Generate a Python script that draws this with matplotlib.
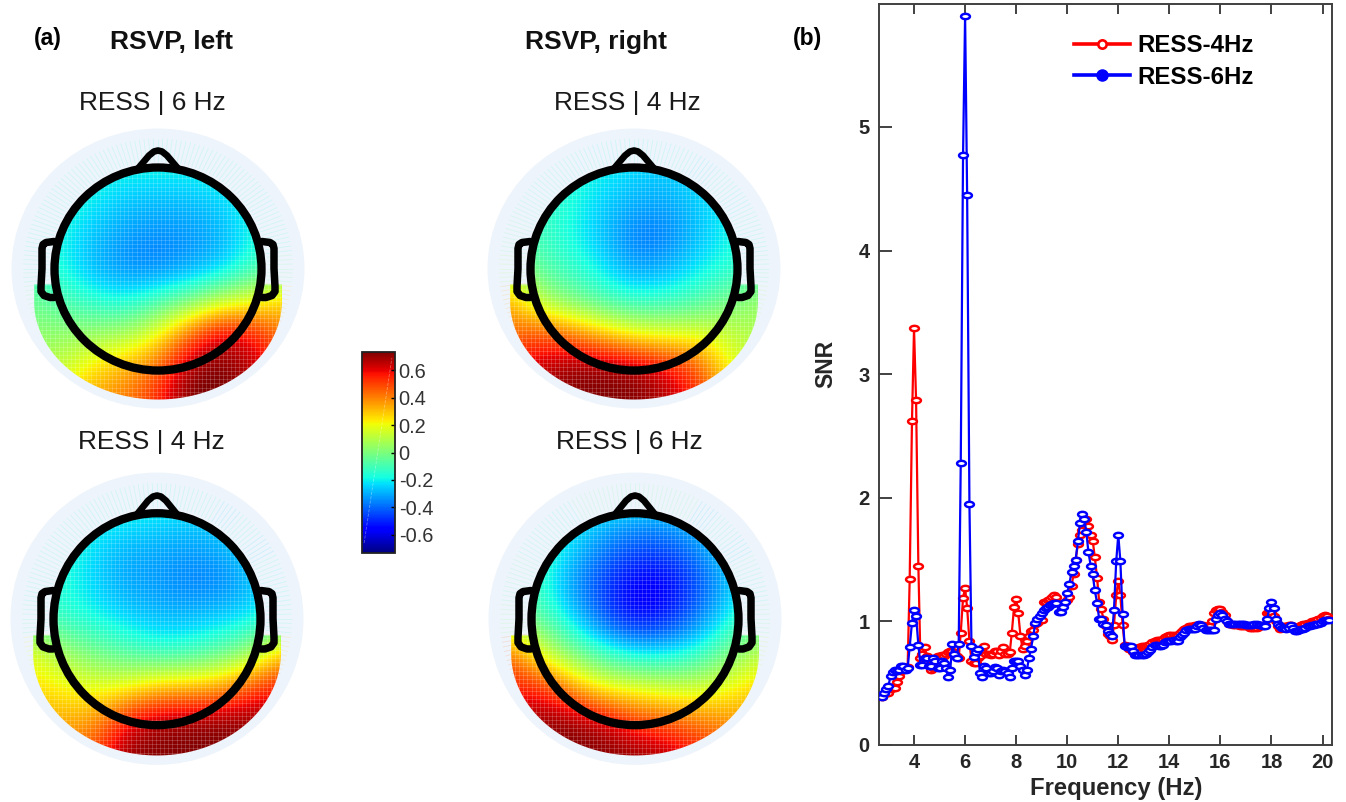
import matplotlib
matplotlib.use("Agg")
import matplotlib.pyplot as plt
import numpy as np
from matplotlib.collections import LineCollection
from matplotlib.colors import Normalize
from matplotlib.markers import MarkerStyle
from matplotlib.patches import Ellipse, PathPatch
from matplotlib.path import Path
from matplotlib.transforms import Affine2D

plt.rcParams["font.family"] = ["Liberation Sans", "DejaVu Sans"]

# SNR spectra
freqs = [
    2.75, 2.83, 2.92,
    3.00, 3.08, 3.17, 3.25, 3.33, 3.42, 3.50, 3.58, 3.67, 3.75, 3.83, 3.92,
    4.00, 4.08, 4.17, 4.25, 4.33, 4.42, 4.50, 4.58, 4.67, 4.75, 4.83, 4.92,
    5.00, 5.08, 5.17, 5.25, 5.33, 5.42, 5.50, 5.58, 5.67, 5.75, 5.83, 5.92,
    6.00, 6.08, 6.17, 6.25, 6.33, 6.42, 6.50, 6.58, 6.67, 6.75, 6.83, 6.92,
    7.00, 7.08, 7.17, 7.25, 7.33, 7.42, 7.50, 7.58, 7.67, 7.75, 7.83, 7.92,
    8.00, 8.08, 8.17, 8.25, 8.33, 8.42, 8.50, 8.58, 8.67, 8.75, 8.83, 8.92,
    9.00, 9.08, 9.17, 9.25, 9.33, 9.42, 9.50, 9.58, 9.67, 9.75, 9.83, 9.92,
    10.00, 10.08, 10.17, 10.25, 10.33, 10.42, 10.50, 10.58, 10.67, 10.75, 10.83, 10.92,
    11.00, 11.08, 11.17, 11.25, 11.33, 11.42, 11.50, 11.58, 11.67, 11.75, 11.83, 11.92,
    12.00, 12.08, 12.17, 12.25, 12.33, 12.42, 12.50, 12.58, 12.67, 12.75, 12.83, 12.92,
    13.00, 13.08, 13.17, 13.25, 13.33, 13.42, 13.50, 13.58, 13.67, 13.75, 13.83, 13.92,
    14.00, 14.08, 14.17, 14.25, 14.33, 14.42, 14.50, 14.58, 14.67, 14.75, 14.83, 14.92,
    15.00, 15.08, 15.17, 15.25, 15.33, 15.42, 15.50, 15.58, 15.67, 15.75, 15.83, 15.92,
    16.00, 16.08, 16.17, 16.25, 16.33, 16.42, 16.50, 16.58, 16.67, 16.75, 16.83, 16.92,
    17.00, 17.08, 17.17, 17.25, 17.33, 17.42, 17.50, 17.58, 17.67, 17.75, 17.83, 17.92,
    18.00, 18.08, 18.17, 18.25, 18.33, 18.42, 18.50, 18.58, 18.67, 18.75, 18.83, 18.92,
    19.00, 19.08, 19.17, 19.25, 19.33, 19.42, 19.50, 19.58, 19.67, 19.75, 19.83, 19.92,
    20.00, 20.08, 20.17, 20.25,
]
snr_4hz = [
    .39, .41, .43,
    .42, .45, .47, .46, .51, .56, .60, .62, .63, .63, 1.34, 2.62,
    3.37, 2.79, 1.45, .70, .74, .79, .72, .65, .61, .62, .70, .72,
    .72, .73, .72, .74, .75, .76, .76, .74, .72, .70, .91, 1.19,
    1.27, 1.11, .84, .68, .66, .66, .70, .72, .75, .80, .74, .74,
    .73, .74, .76, .76, .73, .76, .79, .74, .74, .75, .91, 1.12,
    1.18, 1.07, .88, .78, .80, .84, .88, .92, .93, .98, .99, 1.01,
    1.01, 1.16, 1.16, 1.17, 1.18, 1.20, 1.21, 1.20, 1.15, 1.14, 1.15, 1.16,
    1.17, 1.20, 1.29, 1.38, 1.50, 1.63, 1.70, 1.74, 1.80, 1.83, 1.77, 1.70,
    1.65, 1.52, 1.35, 1.16, 1.10, 1.02, .96, .90, .88, .85, .97, 1.21,
    1.33, 1.21, .97, .81, .80, .78, .78, .75, .75, .77, .79, .80,
    .80, .80, .81, .82, .83, .84, .85, .85, .85, .86, .87, .88,
    .89, .89, .89, .88, .89, .91, .92, .94, .95, .96, .96, .96,
    .97, .97, .97, .97, .97, .96, .96, .96, 1.00, 1.07, 1.09, 1.10,
    1.10, 1.08, 1.05, 1.00, .98, .98, .97, .97, .97, .96, .96, .96,
    .96, .96, .95, .95, .95, .95, .96, .96, .97, .97, 1.07, 1.08,
    1.08, 1.04, 1.00, .96, .94, .95, .96, .96, .97, .97, .96, .95,
    .95, .96, .97, .98, .98, .99, .99, 1.00, 1.00, 1.01, 1.02, 1.03,
    1.04, 1.05, 1.04, 1.02,
]
snr_6hz = [
    .39, .42, .45,
    .48, .56, .59, .61, .60, .61, .64, .64, .61, .62, .79, .99,
    1.09, 1.04, .81, .65, .65, .70, .70, .64, .64, .70, .68, .62,
    .62, .68, .66, .62, .55, .61, .82, .74, .70, .82, 2.28, 4.77,
    5.90, 4.45, 1.95, .80, .71, .75, .78, .58, .55, .64, .62, .58,
    .58, .60, .63, .62, .57, .60, .61, .60, .58, .55, .62, .68,
    .68, .68, .64, .61, .57, .61, .70, .78, .88, .99, 1.02, 1.04,
    1.07, 1.09, 1.11, 1.12, 1.13, 1.14, 1.15, 1.15, 1.08, 1.08, 1.12, 1.16,
    1.23, 1.30, 1.40, 1.45, 1.50, 1.65, 1.80, 1.87, 1.83, 1.72, 1.56, 1.45,
    1.38, 1.25, 1.15, 1.02, 1.02, .98, .97, .92, .90, .88, 1.09, 1.49,
    1.70, 1.49, 1.06, .80, .79, .80, .80, .76, .73, .73, .73, .73,
    .73, .74, .75, .77, .79, .81, .81, .80, .80, .81, .83, .84,
    .84, .84, .85, .84, .84, .87, .89, .91, .93, .94, .94, .94,
    .94, .96, .98, .97, .95, .93, .93, .93, .93, .93, 1.02, 1.05,
    1.07, 1.05, 1.02, 1.00, .98, .98, .98, .98, .98, .98, .98, .98,
    .97, .97, .97, .97, .98, .98, .97, .97, .96, .96, 1.02, 1.11,
    1.16, 1.11, 1.02, .98, .96, .95, .95, .94, .95, .97, .95, .92,
    .92, .93, .94, .94, .95, .96, .96, .97, .97, .98, .98, .99,
    1.00, 1.01, 1.01, 1.01,
]
x_ticks = [4, 6, 8, 10, 12, 14, 16, 18, 20]
y_ticks = [0, 1, 2, 3, 4, 5]
cbar_ticks = [-0.6, -0.4, -0.2, 0, 0.2, 0.4, 0.6]
cbar_labels = ["-0.6", "-0.4", "-0.2", "0", "0.2", "0.4", "0.6"]

# scalp maps, coarse 9x9 readings from the colours, top row first
map_left_6hz = [
    [-.15, -.15, -.15, -.15, -.15, -.15, -.15, -.15, -.15],
    [-.15, -.15, -.17, -.20, -.20, -.20, -.18, -.15, -.15],
    [-.14, -.17, -.22, -.27, -.28, -.28, -.25, -.18, -.14],
    [-.16, -.20, -.28, -.33, -.35, -.34, -.30, -.20, -.15],
    [-.12, -.20, -.30, -.35, -.37, -.32, -.27, -.14, -.05],
    [-.03, -.10, -.16, -.19, -.10, -.02, .12, .18, .28],
    [.03, .04, .05, .08, .20, .45, .65, .60, .40],
    [.10, .13, .27, .33, .45, .70, .75, .65, .55],
    [.20, .28, .35, .42, .55, .75, .75, .70, .60],
]
map_right_4hz = [
    [-.18, -.18, -.18, -.18, -.18, -.18, -.18, -.18, -.18],
    [-.14, -.14, -.17, -.20, -.24, -.26, -.22, -.17, -.15],
    [-.10, -.12, -.18, -.25, -.30, -.31, -.26, -.20, -.16],
    [-.08, -.12, -.19, -.28, -.38, -.38, -.28, -.20, -.16],
    [.05, -.08, -.14, -.22, -.33, -.30, -.22, -.17, -.10],
    [.35, .08, -.02, -.10, -.15, -.14, -.10, -.02, .05],
    [.42, .50, .42, .30, .20, .18, .18, .14, .08],
    [.60, .65, .72, .72, .70, .60, .50, .20, .12],
    [.65, .70, .72, .73, .73, .68, .55, .35, .20],
]
map_left_4hz = [
    [-.15, -.15, -.15, -.15, -.15, -.15, -.15, -.15, -.15],
    [-.16, -.16, -.18, -.20, -.22, -.24, -.24, -.18, -.15],
    [-.13, -.16, -.24, -.30, -.31, -.33, -.31, -.24, -.15],
    [-.14, -.18, -.25, -.32, -.33, -.37, -.37, -.30, -.18],
    [-.10, -.14, -.19, -.24, -.28, -.28, -.25, -.22, -.14],
    [.20, .05, -.02, -.08, -.14, -.13, -.07, .03, .30],
    [.25, .23, .18, .20, .30, .32, .35, .50, .58],
    [.35, .33, .37, .60, .70, .72, .73, .72, .72],
    [.40, .42, .50, .72, .73, .73, .73, .73, .73],
]
map_right_6hz = [
    [-.05, -.05, -.05, -.05, -.05, -.05, -.05, -.05, -.05],
    [-.12, -.14, -.18, -.26, -.30, -.30, -.24, -.15, -.10],
    [-.08, -.12, -.26, -.38, -.45, -.45, -.37, -.22, -.12],
    [-.08, -.16, -.35, -.48, -.58, -.58, -.45, -.30, -.15],
    [.00, -.08, -.24, -.44, -.56, -.52, -.38, -.20, -.05],
    [.45, .15, -.02, -.13, -.22, -.22, -.16, -.02, .10],
    [.55, .55, .35, .20, .18, .14, .14, .20, .30],
    [.68, .72, .72, .65, .52, .48, .42, .38, .35],
    [.73, .73, .73, .73, .72, .68, .58, .50, .40],
]

W, H = 1346, 802
VMAX = 0.735
norm = Normalize(-VMAX, VMAX)
cmap = plt.get_cmap("jet")


def ax_px(fig, left, top, right, bottom):
    return fig.add_axes([left / W, 1 - bottom / H, (right - left) / W, (bottom - top) / H])


def draw_head(ax, cx, cy, field, sy):
    field = np.array(field)
    rx, ry = 124, 131 * sy

    ax.add_patch(Ellipse((cx, cy), 293, 280 * sy, fc="#eef4fb", ec="none", zorder=1))

    # faint spokes in the pale ring
    segs, cols = [], []
    for a in np.radians(np.arange(0, 360, 2.0)):
        ca, sa = np.cos(a), np.sin(a)
        segs.append([(cx + 109 * ca, cy + 107 * sy * sa), (cx + 135 * ca, cy + 130 * sy * sa)])
        i = int(np.clip(round((sa + 1) * 4), 0, 8))
        j = int(np.clip(round((ca + 1) * 4), 0, 8))
        cols.append(cmap(norm(field[i, j]), alpha=0.15))
    ax.add_collection(LineCollection(segs, colors=cols, linewidths=0.6, zorder=1.5))

    # coloured part: inside the head plus the lobe below the ears
    t = np.linspace(0, 2 * np.pi, 200)
    head_v = np.column_stack([cx + 104 * np.cos(t), cy + 103 * sy * np.sin(t)])
    t2 = np.linspace(0, np.pi, 120)
    low_v = np.column_stack([cx + rx * np.cos(t2), cy + (32 + 99 * np.sin(t2)) * sy])
    low_v = np.vstack([[cx + rx, cy + 16 * sy], low_v, [cx - rx, cy + 16 * sy], [cx + rx, cy + 16 * sy]])
    clip = Path.make_compound_path(Path(head_v, closed=True), Path(low_v, closed=True))
    clip_patch = PathPatch(clip, transform=ax.transData)

    ext = (cx - 1.125 * rx, cx + 1.125 * rx, cy + 1.125 * ry, cy - 1.125 * ry)
    im = ax.imshow(field, cmap=cmap, norm=norm, extent=ext, origin="upper",
                   interpolation="bicubic", aspect="auto", zorder=2)
    im.set_clip_path(clip_patch)

    # the mesh shows as thin pale lines
    gx = np.arange(cx - rx, cx + rx, 4.1)
    gy = np.arange(cy - ry, cy + ry, 4.1)
    v = ax.vlines(gx, cy - ry, cy + ry, color="white", lw=0.5, alpha=0.25, zorder=2.5)
    h = ax.hlines(gy, cx - rx, cx + rx, color="white", lw=0.5, alpha=0.25, zorder=2.5)
    v.set_clip_path(clip_patch)
    h.set_clip_path(clip_patch)

    # head outline, nose, ears
    ax.add_patch(Ellipse((cx, cy + 0.5), 207, 203 * sy, fc="none", ec="black", lw=6, zorder=3))
    nose_x = [-20, -9, -4, 0, 4, 9, 20]
    nose_y = [-100, -113, -117, -118, -117, -113, -100]
    ax.plot([cx + n for n in nose_x], [cy + n * sy for n in nose_y], color="black", lw=4.8,
            solid_joinstyle="round", solid_capstyle="round", zorder=3)
    for side in (-1, 1):
        ear_x = [104, 112, 115, 116, 116, 117, 117, 114, 108, 104]
        ear_y = [-27, -26, -24, -20, 0, 18, 23, 27, 29, 29]
        ax.plot([cx + side * e for e in ear_x], [cy + e * sy for e in ear_y],
                color="black", lw=5.4, solid_joinstyle="round", solid_capstyle="round", zorder=3)
    return im


fig = plt.figure(figsize=(W / 100, H / 100), dpi=100)

# panel (a) lives in a full figure axes counted in pixels
bg = fig.add_axes([0, 0, 1, 1])
im = draw_head(bg, 158, 268.5, map_left_6hz, 1.0)
draw_head(bg, 634, 268.5, map_right_4hz, 1.0)
draw_head(bg, 157, 618.7, map_left_4hz, 1.044)
draw_head(bg, 635, 618.7, map_right_6hz, 1.044)
bg.set_xlim(0, W)
bg.set_ylim(H, 0)
bg.axis("off")

bg.text(34, 38, "(a)", fontsize=16.5, fontweight="bold", va="center", ha="left")
bg.text(793, 38, "(b)", fontsize=16.5, fontweight="bold", va="center", ha="left")
bg.text(172, 42, "RSVP, left", fontsize=19, fontweight="bold", va="center", ha="center", color="#111111")
bg.text(596, 42, "RSVP, right", fontsize=19, fontweight="bold", va="center", ha="center", color="#111111")
titles = [(152.5, 103, "RESS | 6 Hz"), (627.5, 103, "RESS | 4 Hz"),
          (151, 442, "RESS | 4 Hz"), (629.5, 442, "RESS | 6 Hz")]
for tx, ty, s in titles:
    bg.text(tx, ty, s, fontsize=18.9, color="#1a1a1a", va="center", ha="center")

# colorbar
cax = ax_px(fig, 361.5, 352, 394.5, 553)
cb = fig.colorbar(im, cax=cax, ticks=cbar_ticks)
cb.ax.set_yticklabels(cbar_labels)
cb.ax.tick_params(direction="in", length=3, width=1, labelsize=14.4, pad=3, labelcolor="#333333")
cb.outline.set_linewidth(1.3)
cb.outline.set_edgecolor("#222222")
cb.ax.plot([0.08, 0.92], [0.05, 0.97], transform=cb.ax.transAxes, color="white", lw=0.6, ls="--", alpha=0.35)

# panel (b)
ax = ax_px(fig, 879.3, 4, 1332, 745)
ax.patch.set_alpha(0)
oval = MarkerStyle(Path.unit_circle().transformed(Affine2D().scale(1, 0.6)))
ax.plot(freqs, snr_4hz, color="red", lw=1.6, marker=oval, ms=6.4, mew=1.75, mfc="white", mec="red", zorder=3)
ax.plot(freqs, snr_6hz, color="blue", lw=1.6, marker=oval, ms=6.4, mew=1.75, mfc="white", mec="blue", zorder=4)
ax.set_xlim(2.64, 20.37)
ax.set_ylim(0, 5.995)
ax.set_xticks(x_ticks)
ax.set_yticks(y_ticks)
ax.tick_params(axis="x", direction="in", length=7, width=1.3, top=True, labelsize=14.5, pad=5.5,
               color="#333333", labelcolor="#262626")
ax.tick_params(axis="y", direction="in", length=9, width=1.3, labelsize=14.5, pad=7,
               color="#333333", labelcolor="#262626")
for lab in ax.get_xticklabels() + ax.get_yticklabels():
    lab.set_fontweight("bold")
for sp in ax.spines.values():
    sp.set_linewidth(1.4)
    sp.set_color("#404040")
ax.set_xlabel("Frequency (Hz)", fontsize=17.2, fontweight="bold", color="#262626", va="center")
ax.xaxis.set_label_coords((1116.5 - 879.3) / 452.7, -43 / 741)
ax.set_ylabel("SNR", fontsize=16.5, fontweight="bold", color="#262626", va="center")
ax.yaxis.set_label_coords((825.5 - 879.3) / 452.7, (745 - 364) / 741)

h1, = ax.plot([], [], color="red", lw=2.6, marker="o", ms=6, mew=1.9, mfc="white", mec="red")
h2, = ax.plot([], [], color="blue", lw=2.6, marker="o", ms=8, mfc="blue", mec="blue")
ax.legend([h1, h2], ["RESS-4Hz", "RESS-6Hz"], loc="upper left", bbox_to_anchor=(0.431, 0.9595),
          frameon=False, borderpad=0, borderaxespad=0, handlelength=2.33,
          handletextpad=0.3, labelspacing=0.36, prop={"weight": "bold", "size": 17.3})

fig.savefig("out.png", dpi=100)
